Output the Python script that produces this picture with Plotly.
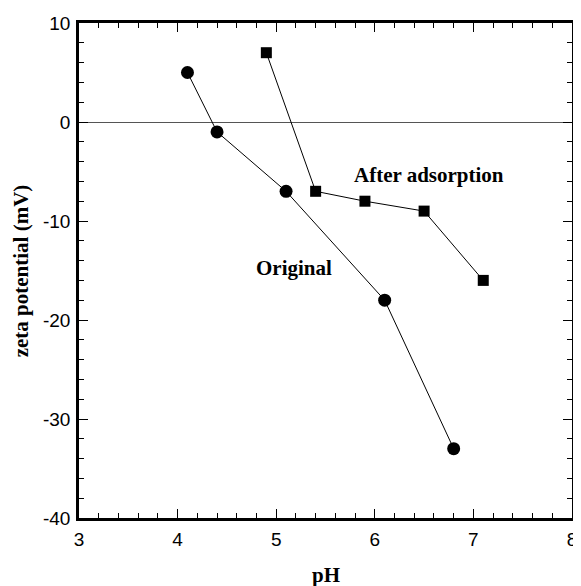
import plotly.graph_objects as go

ph_original = [4.1, 4.4, 5.1, 6.1, 6.8]
zeta_original = [5, -1, -7, -18, -33]
ph_after = [4.9, 5.4, 5.9, 6.5, 7.1]
zeta_after = [7, -7, -8, -9, -16]

x_ticks = [3, 4, 5, 6, 7, 8]
y_ticks = [-40, -30, -20, -10, 0, 10]

fig = go.Figure()
fig.add_trace(go.Scatter(x=ph_original, y=zeta_original, mode="lines+markers",
                         line=dict(color="black", width=1),
                         marker=dict(symbol="circle", size=13, color="black"),
                         name="Original"))
fig.add_trace(go.Scatter(x=ph_after, y=zeta_after, mode="lines+markers",
                         line=dict(color="black", width=1),
                         marker=dict(symbol="square", size=11, color="black"),
                         name="After adsorption"))

serif = "Liberation Serif, Times New Roman, serif"
sans = "Liberation Sans, Arial, sans-serif"

fig.add_annotation(x=5.77, y=-5.35, text="<b>After adsorption</b>", showarrow=False,
                   xanchor="left", yanchor="middle", font=dict(family=serif, size=21, color="black"))
fig.add_annotation(x=4.77, y=-14.75, text="<b>Original</b>", showarrow=False,
                   xanchor="left", yanchor="middle", font=dict(family=serif, size=21, color="black"))
fig.add_annotation(x=0.5, y=-0.116, xref="paper", yref="paper", text="<b>pH</b>", showarrow=False,
                   xanchor="center", yanchor="middle", font=dict(family=serif, size=21, color="black"))
fig.add_annotation(x=-0.118, y=0.5, xref="paper", yref="paper", text="<b>zeta potential (mV)</b>",
                   showarrow=False, textangle=-90, xanchor="center", yanchor="middle",
                   font=dict(family=serif, size=21, color="black"))

fig.update_layout(
    width=573, height=578,
    margin=dict(l=71, r=4, t=15, b=68),
    paper_bgcolor="white", plot_bgcolor="white",
    showlegend=False,
    xaxis=dict(range=[3, 8], tickvals=x_ticks, ticktext=[str(v) for v in x_ticks],
               showgrid=False, zeroline=False, showline=True, linecolor="black", linewidth=2.5,
               mirror="allticks", ticks="inside", ticklen=9, tickwidth=1, tickcolor="black",
               minor=dict(dtick=0.2, ticks="inside", ticklen=5, tickwidth=1, tickcolor="black", showgrid=False),
               tickfont=dict(family=sans, size=19, color="black"), ticklabelstandoff=2),
    yaxis=dict(range=[-40, 10], tickvals=y_ticks, ticktext=[str(v) for v in y_ticks],
               showgrid=False, zeroline=True, zerolinecolor="#555555", zerolinewidth=1,
               showline=True, linecolor="black", linewidth=2.5,
               mirror="allticks", ticks="inside", ticklen=9, tickwidth=1, tickcolor="black",
               minor=dict(dtick=2, ticks="inside", ticklen=5, tickwidth=1, tickcolor="black", showgrid=False),
               tickfont=dict(family=sans, size=19, color="black"), ticklabelstandoff=2),
)

fig.write_html("out.html")
